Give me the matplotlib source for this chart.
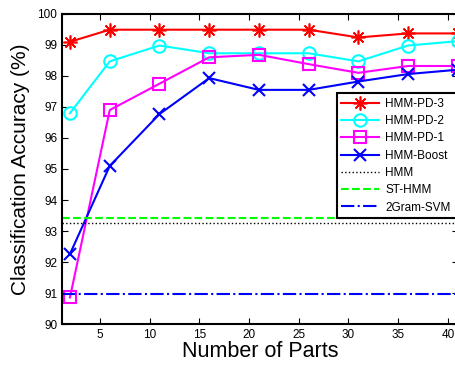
import matplotlib.pyplot as plt

plt.rcParams['font.family'] = ['Liberation Sans', 'DejaVu Sans']

parts = [2, 6, 11, 16, 21, 26, 31, 36, 41]
hmm_pd3 = [99.1, 99.49, 99.49, 99.49, 99.49, 99.49, 99.24, 99.37, 99.37]
hmm_pd2 = [96.8, 98.47, 98.98, 98.73, 98.73, 98.73, 98.47, 98.98, 99.12]
hmm_pd1 = [90.86, 96.9, 97.75, 98.6, 98.68, 98.38, 98.1, 98.32, 98.32]
hmm_boost = [92.26, 95.1, 96.77, 97.93, 97.55, 97.55, 97.82, 98.06, 98.2]
hmm_base = 93.27
st_hmm = 93.43
svm_2gram = 90.96

fig = plt.figure(figsize=(4.56, 3.65), dpi=100)
ax = fig.add_axes([0.136, 0.112, 0.868, 0.85])

ax.plot(parts, hmm_pd3, '-', marker=(8, 2, 0), color='red', lw=1.5, ms=10, mew=1.2,
        label='HMM-PD-3')
ax.plot(parts, hmm_pd2, '-o', color='cyan', lw=1.5, ms=9, mfc='none', mew=1.5, label='HMM-PD-2')
ax.plot(parts, hmm_pd1, '-s', color='magenta', lw=1.5, ms=8, mfc='none', mew=1.5, label='HMM-PD-1')
ax.plot(parts, hmm_boost, '-x', color='blue', lw=1.5, ms=8, mew=1.5, label='HMM-Boost')
ax.axhline(hmm_base, color='black', ls=':', lw=1, label='HMM')
ax.axhline(st_hmm, color='#00ff00', ls='--', lw=1.5, label='ST-HMM')
ax.axhline(svm_2gram, color='blue', ls='-.', lw=1.5, label='2Gram-SVM')

ax.set_xlim(1.2, 41)
ax.set_ylim(90, 100)
ax.set_xticks([5, 10, 15, 20, 25, 30, 35, 40])
ax.set_yticks(range(90, 101))
ax.tick_params(direction='in', top=True, right=True, labelsize=8.5, length=4)
for s in ax.spines.values():
    s.set_linewidth(1.5)

ax.set_xlabel('Number of Parts', fontsize=15.5, labelpad=0)
ax.set_ylabel('Classification Accuracy (%)', fontsize=15, labelpad=5)

leg = ax.legend(loc='upper left', bbox_to_anchor=(0.694, 0.745, 0.34, 0.0), mode='expand',
                fontsize=8.5, handlelength=3.2, frameon=True, fancybox=False, borderpad=0.4,
                labelspacing=0.45, handletextpad=0.5, borderaxespad=0)
leg.get_frame().set_edgecolor('black')
leg.get_frame().set_linewidth(1.5)
leg.get_frame().set_alpha(1)

fig.savefig('out.png', dpi=100)
